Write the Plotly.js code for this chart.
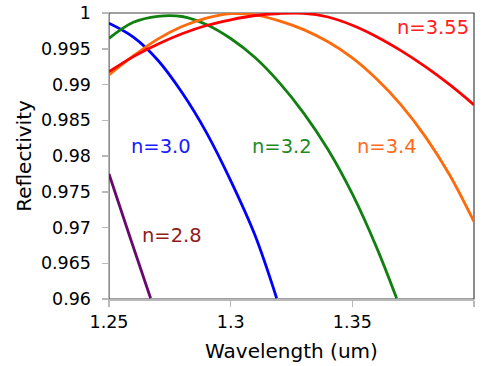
<!DOCTYPE html>
<html>
<head>
<meta charset="utf-8">
<script src="https://cdn.plot.ly/plotly-3.0.1.min.js"></script>
<style>html,body{margin:0;padding:0;background:#fff;}#chart{width:487px;height:366px;}</style>
</head>
<body>
<div id="chart"></div>
<script>
// n = 2.8
var lam28 = [1.25, 1.2586, 1.2671];
var ref28 = [0.97748, 0.96867, 0.96010];
// n = 3.0
var lam30 = [1.25, 1.26, 1.27, 1.28, 1.29, 1.30, 1.31, 1.3189];
var ref30 = [0.99856, 0.99662, 0.99343, 0.98888, 0.98331, 0.97656, 0.96891, 0.96010];
// n = 3.2
var lam32 = [1.25, 1.26, 1.27, 1.28, 1.29, 1.30, 1.31, 1.32, 1.33, 1.34, 1.35, 1.36, 1.3682];
var ref32 = [0.99646, 0.99870, 0.99954, 0.99951, 0.99839, 0.99643, 0.99378, 0.99027, 0.98600, 0.98091, 0.97469, 0.96719, 0.96010];
// n = 3.4
var lam34 = [1.25, 1.26, 1.27, 1.28, 1.29, 1.30, 1.31, 1.32, 1.33, 1.34, 1.35, 1.36, 1.37, 1.38, 1.39, 1.40];
var ref34 = [0.99133, 0.99399, 0.99635, 0.99811, 0.99927, 0.99990, 0.99975, 0.99891, 0.99768, 0.99597, 0.99373, 0.99077, 0.98715, 0.98271, 0.97734, 0.97081];
// n = 3.55
var lam355 = [1.25, 1.26, 1.27, 1.28, 1.29, 1.30, 1.31, 1.32, 1.33, 1.34, 1.35, 1.36, 1.37, 1.38, 1.39, 1.40];
var ref355 = [0.99179, 0.99390, 0.99564, 0.99710, 0.99825, 0.99905, 0.99965, 0.99993, 0.99996, 0.99944, 0.99829, 0.99669, 0.99474, 0.99249, 0.98997, 0.98716];

var seriesNames = ["n=2.8", "n=3.0", "n=3.2", "n=3.4", "n=3.55"];
var xTickVals = [1.25, 1.3, 1.35, 1.4];
var xTickText = ["1.25", "1.3", "1.35", "1.4"];
var yTickVals = [0.96, 0.965, 0.97, 0.975, 0.98, 0.985, 0.99, 0.995, 1.0];
var yTickText = ["0.96", "0.965", "0.97", "0.975", "0.98", "0.985", "0.99", "0.995", "1"];

// label anchor positions (data coordinates)
var labelX = [1.2758, 1.2712, 1.3210, 1.3644, 1.3831];
var labelY = [0.96888, 0.98126, 0.98126, 0.98126, 0.99794];

var lineColors = ["#660a6e", "#0000ff", "#118011", "#ff6a0a", "#ff0000"];
var labelColors = ["#8f1c1c", "#1a1aff", "#1f8a1f", "#ff6a1a", "#ff2020"];

var xs = [lam28, lam30, lam32, lam34, lam355];
var ys = [ref28, ref30, ref32, ref34, ref355];

var traces = xs.map(function (x, i) {
  return {
    x: x, y: ys[i], name: seriesNames[i], type: "scatter", mode: "lines",
    line: {color: lineColors[i], width: 2.8, shape: "spline", smoothing: 1},
    hoverinfo: "none"
  };
});

var FONT = "DejaVu Sans, Liberation Sans, Arial, sans-serif";

var annotations = seriesNames.map(function (t, i) {
  return {
    x: labelX[i], y: labelY[i], xref: "x", yref: "y", text: t, showarrow: false,
    xanchor: "center", yanchor: "middle",
    font: {family: FONT, size: 19.5, color: labelColors[i]}
  };
});

var layout = {
  width: 487, height: 366,
  margin: {l: 109, r: 13, t: 13, b: 67, pad: 0},
  paper_bgcolor: "#ffffff", plot_bgcolor: "#ffffff",
  showlegend: false,
  font: {family: FONT, color: "#000"},
  xaxis: {
    range: [1.25, 1.4], tickvals: xTickVals, ticktext: xTickText,
    showgrid: false, zeroline: false, showline: true, linecolor: "#b8b8b8", linewidth: 1.5,
    ticks: "outside", ticklen: 6, tickcolor: "#b8b8b8", tickwidth: 1.5,
    tickfont: {family: FONT, size: 17.5, color: "#000"},
    title: {text: "Wavelength (um)", font: {family: FONT, size: 20, color: "#000"}, standoff: 13}
  },
  yaxis: {
    range: [0.96, 1.0], tickvals: yTickVals, ticktext: yTickText,
    showgrid: false, zeroline: false, showline: true, linecolor: "#b8b8b8", linewidth: 1.5,
    ticks: "outside", ticklen: 6, tickcolor: "#b8b8b8", tickwidth: 1.5,
    ticklabelstandoff: 7,
    tickfont: {family: FONT, size: 17.5, color: "#000"},
    title: {text: "Reflectivity", font: {family: FONT, size: 20, color: "#000"}, standoff: 4}
  },
  shapes: [{
    type: "rect", xref: "paper", yref: "paper", x0: 0, x1: 1, y0: 0, y1: 1,
    line: {color: "#404040", width: 1.2}, layer: "below"
  }],
  annotations: annotations
};

Plotly.newPlot("chart", traces, layout, {staticPlot: true, displayModeBar: false});
</script>
</body>
</html>
